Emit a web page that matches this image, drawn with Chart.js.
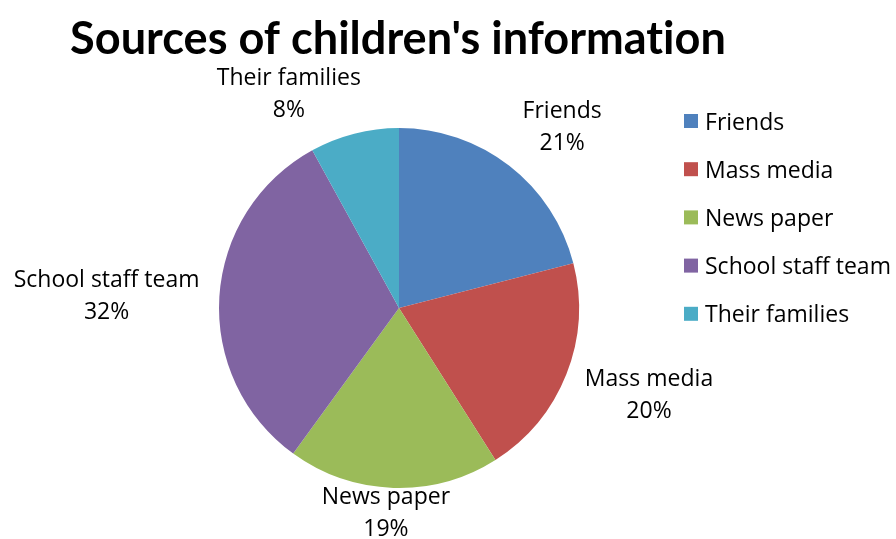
<!DOCTYPE html>
<html>
<head>
<meta charset="utf-8">
<script src="https://cdn.jsdelivr.net/npm/chart.js@4.4.0/dist/chart.umd.min.js"></script>
<style>
  html, body { margin: 0; padding: 0; background: #fff; }
  #wrap { width: 896px; height: 539px; position: relative; }
</style>
</head>
<body>
<div id="wrap"><canvas id="pie"></canvas></div>
<script>
// data
const categories = ["Friends", "Mass media", "News paper", "School staff team", "Their families"];
const shares = [21, 20, 19, 32, 8];
const sliceColors = ['#4F81BD', '#C0504D', '#9BBB59', '#8064A2', '#4BACC6'];
const chartTitle = "Sources of children's information";

const TITLE_FONT = 'Lato, "Open Sans", sans-serif';
const FONT = '"Open Sans", Lato, sans-serif';

// small nudges so the outside labels land where Excel put them
const labelNudge = [
    { dx: 20, dy: -2 },
    { dx: 10, dy: 4 },
    { dx: -5, dy: -20 },
    { dx: -6, dy: 3 },
    { dx: -44, dy: 5 },
];

// pick a font size so that a sample string spans the given width
function fitSize(ctx, weight, family, text, width) {
    ctx.font = weight + ' 40px ' + family;
    return 40 * width / ctx.measureText(text).width;
}

const decorPlugin = {
    id: 'decor',
    afterDraw(chart) {
        const ctx = chart.ctx;
        const meta = chart.getDatasetMeta(0);
        const total = shares.reduce((a, b) => a + b, 0);
        ctx.save();
        ctx.letterSpacing = '0.01px'; // no "ti" ligature

        // title
        const ts = fitSize(ctx, 'bold', TITLE_FONT, chartTitle, 656);
        ctx.font = 'bold ' + ts + 'px ' + TITLE_FONT;
        ctx.fillStyle = '#000';
        ctx.textAlign = 'center';
        ctx.textBaseline = 'middle';
        ctx.fillText(chartTitle, 398, 39);

        // outside-end data labels
        const ls = fitSize(ctx, 'normal', FONT, 'School staff team', 186);
        ctx.font = ls + 'px ' + FONT;
        meta.data.forEach((arc, i) => {
            const p = arc.getProps(['x', 'y', 'startAngle', 'endAngle', 'outerRadius'], true);
            const mid = (p.startAngle + p.endAngle) / 2;
            const r = p.outerRadius + 14;
            const ax = p.x + Math.cos(mid) * r;
            const ay = p.y + Math.sin(mid) * r;
            const pct = Math.round(shares[i] / total * 100) + '%';
            const bw = Math.max(ctx.measureText(categories[i]).width, ctx.measureText(pct).width);
            const bh = 64;
            const cx = ax + Math.cos(mid) * bw / 2 + labelNudge[i].dx;
            const cy = ay + Math.sin(mid) * bh / 2 + labelNudge[i].dy;
            ctx.fillText(categories[i], cx, cy - 16);
            ctx.fillText(pct, cx, cy + 16);
        });

        // legend
        ctx.textAlign = 'left';
        categories.forEach((c, i) => {
            const y = 121 + i * 48.2;
            ctx.fillStyle = sliceColors[i];
            ctx.fillRect(684, y - 7, 14, 14);
            ctx.fillStyle = '#000';
            ctx.fillText(c, 705, y + 2);
        });
        ctx.restore();
    }
};

new Chart(document.getElementById('pie'), {
    type: 'pie',
    data: {
        labels: categories,
        datasets: [{
            data: shares,
            backgroundColor: sliceColors,
            borderWidth: 0,
        }],
    },
    options: {
        responsive: true,
        maintainAspectRatio: false,
        animation: false,
        layout: { padding: { left: 219, right: 317, top: 128, bottom: 51 } },
        plugins: {
            legend: { display: false },
            title: { display: false },
            tooltip: { enabled: false },
        },
    },
    plugins: [decorPlugin],
});
</script>
</body>
</html>
